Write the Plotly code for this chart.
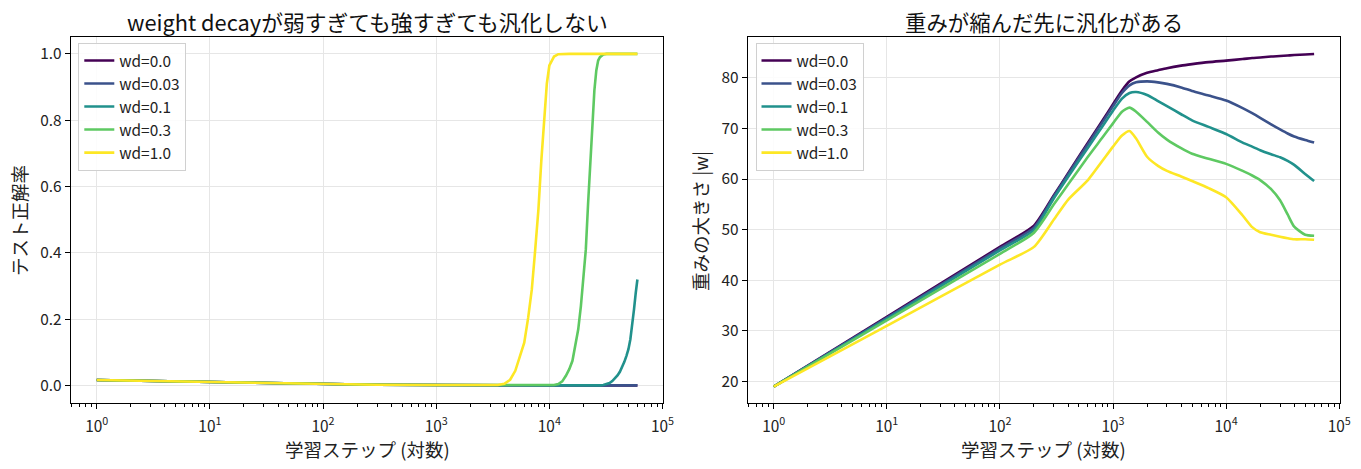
import plotly.graph_objects as go

# ---------------- data ----------------
labels = ["wd=0.0", "wd=0.03", "wd=0.1", "wd=0.3", "wd=1.0"]
colors = ["#440154", "#3b528b", "#21918c", "#5ec962", "#fde725"]

steps_acc = [1, 3, 10, 30, 100, 300, 1000,
             3000, 3500, 4000, 4500, 5000, 5500, 6000, 6500, 7000, 7500, 8000, 8500, 9000, 9500,
             10000, 11000, 12000, 13000, 14000, 15000, 16000, 17000, 18000, 19000, 20000,
             21000, 22000, 23000, 24000, 25000, 26000, 27000, 28000,
             30000, 32000, 34000, 36000, 38000, 40000, 42000, 44000, 46000, 48000, 50000,
             52000, 54000, 56000, 58000, 60000]

acc_wd0 = [0.017, 0.014, 0.011, 0.008, 0.005, 0.003, 0.002,
           0.001, 0.001, 0.001, 0.001, 0.001, 0.001, 0.001, 0.001, 0.001, 0.001, 0.001, 0.001, 0.001, 0.001,
           0.001, 0.001, 0.001, 0.001, 0.001, 0.001, 0.001, 0.001, 0.001, 0.001, 0.001,
           0.001, 0.001, 0.001, 0.001, 0.001, 0.001, 0.001, 0.001,
           0.001, 0.001, 0.001, 0.001, 0.001, 0.001, 0.001, 0.001, 0.001, 0.001, 0.001,
           0.001, 0.001, 0.001, 0.001, 0.001]
acc_wd003 = [0.017, 0.014, 0.011, 0.008, 0.005, 0.003, 0.002,
             0.001, 0.001, 0.001, 0.001, 0.001, 0.001, 0.001, 0.001, 0.001, 0.001, 0.001, 0.001, 0.001, 0.001,
             0.001, 0.001, 0.001, 0.001, 0.001, 0.001, 0.001, 0.001, 0.001, 0.001, 0.001,
             0.001, 0.001, 0.001, 0.001, 0.001, 0.001, 0.001, 0.001,
             0.001, 0.001, 0.001, 0.001, 0.001, 0.001, 0.001, 0.001, 0.001, 0.001, 0.001,
             0.001, 0.001, 0.001, 0.001, 0.001]
acc_wd01 = [0.017, 0.014, 0.011, 0.008, 0.005, 0.003, 0.002,
            0.001, 0.001, 0.001, 0.001, 0.001, 0.001, 0.001, 0.001, 0.001, 0.001, 0.001, 0.001, 0.001, 0.001,
            0.001, 0.001, 0.001, 0.001, 0.001, 0.001, 0.001, 0.001, 0.001, 0.001, 0.001,
            0.001, 0.001, 0.001, 0.001, 0.001, 0.001, 0.001, 0.001,
            0.002, 0.004, 0.008, 0.014, 0.022, 0.031, 0.042, 0.056, 0.072, 0.090, 0.110,
            0.140, 0.180, 0.230, 0.280, 0.320]
acc_wd03 = [0.017, 0.014, 0.011, 0.008, 0.005, 0.003, 0.002,
            0.001, 0.001, 0.001, 0.001, 0.001, 0.001, 0.001, 0.001, 0.001, 0.001, 0.001, 0.001, 0.001, 0.001,
            0.001, 0.002, 0.005, 0.013, 0.030, 0.050, 0.075, 0.120, 0.170, 0.240, 0.320,
            0.410, 0.550, 0.680, 0.800, 0.890, 0.950, 0.980, 0.990,
            0.998, 1.000, 1.000, 1.000, 1.000, 1.000, 1.000, 1.000, 1.000, 1.000, 1.000,
            1.000, 1.000, 1.000, 1.000, 1.000]
acc_wd1 = [0.017, 0.014, 0.011, 0.008, 0.005, 0.003, 0.002,
           0.001, 0.002, 0.006, 0.018, 0.045, 0.090, 0.130, 0.205, 0.290, 0.410, 0.530, 0.680, 0.810, 0.910,
           0.965, 0.992, 0.999, 1.000, 1.000, 1.000, 1.000, 1.000, 1.000, 1.000, 1.000,
           1.000, 1.000, 1.000, 1.000, 1.000, 1.000, 1.000, 1.000,
           1.000, 1.000, 1.000, 1.000, 1.000, 1.000, 1.000, 1.000, 1.000, 1.000, 1.000,
           1.000, 1.000, 1.000, 1.000, 1.000]

steps_w = [1, 10, 100, 200, 300, 400, 600, 800, 1000, 1200, 1400, 1600, 2000, 2500, 3000,
           4000, 5000, 7000, 10000, 14000, 17000, 20000, 25000, 30000, 35000, 40000, 50000, 60000]

norm_wd0 = [19.0, 32.8, 46.6, 50.8, 56.8, 61.1, 67.2, 71.4, 74.8, 77.5, 79.3, 80.1, 81.0, 81.5, 81.9,
            82.4, 82.7, 83.1, 83.4, 83.7, 83.9, 84.0, 84.2, 84.3, 84.4, 84.5, 84.6, 84.7]
norm_wd003 = [19.0, 32.6, 46.3, 50.4, 56.6, 60.9, 66.9, 71.1, 74.4, 77.0, 78.5, 79.1, 79.3, 79.1, 78.8,
              78.1, 77.4, 76.5, 75.5, 74.0, 73.0, 72.1, 70.8, 69.8, 69.0, 68.4, 67.7, 67.2]
norm_wd01 = [19.0, 32.4, 45.9, 49.9, 56.2, 60.4, 66.2, 70.3, 73.5, 75.9, 77.0, 77.2, 76.6, 75.4, 74.4,
             72.8, 71.6, 70.3, 68.9, 67.2, 66.4, 65.7, 64.9, 64.3, 63.6, 62.8, 61.0, 59.6]
norm_wd03 = [19.0, 32.1, 45.2, 49.4, 55.0, 58.9, 64.4, 68.1, 71.0, 73.3, 74.1, 73.3, 71.3, 69.2, 67.8,
             66.1, 65.0, 64.0, 63.0, 61.6, 60.7, 59.8, 58.0, 55.8, 53.0, 50.6, 49.0, 48.8]
norm_wd1 = [19.0, 31.0, 43.1, 46.6, 52.0, 55.9, 59.8, 63.5, 66.4, 68.6, 69.5, 68.0, 64.4, 62.6, 61.6,
            60.5, 59.6, 58.2, 56.4, 52.8, 50.5, 49.5, 49.0, 48.6, 48.3, 48.1, 48.1, 48.0]

acc_series = [acc_wd0, acc_wd003, acc_wd01, acc_wd03, acc_wd1]
norm_series = [norm_wd0, norm_wd003, norm_wd01, norm_wd03, norm_wd1]

x_tickvals = [1, 10, 100, 1000, 10000, 100000]
x_ticktext = ["10<sup>0</sup>", "10<sup>1</sup>", "10<sup>2</sup>", "10<sup>3</sup>", "10<sup>4</sup>", "10<sup>5</sup>"]
acc_ticks = [0.0, 0.2, 0.4, 0.6, 0.8, 1.0]
acc_ticktext = ["0.0", "0.2", "0.4", "0.6", "0.8", "1.0"]
norm_ticks = [20, 30, 40, 50, 60, 70, 80]

title_left = "weight decayが弱すぎても強すぎても汎化しない"
title_right = "重みが縮んだ先に汎化がある"
xlabel = "学習ステップ (対数)"
ylabel_left = "テスト正解率"
ylabel_right = "重みの大きさ |w|"

# ---------------- figure ----------------
W, H = 1361, 469
FONT = "Noto Sans CJK JP, Noto Sans, DejaVu Sans, sans-serif"
TICK = 15.4
LAB = 18.5

fig = go.Figure()
for i, (lab, col) in enumerate(zip(labels, colors)):
    fig.add_trace(go.Scatter(x=steps_acc, y=acc_series[i], mode="lines", name=lab,
                             line=dict(color=col, width=2.6), legendgroup="g%d" % i,
                             xaxis="x", yaxis="y", legend="legend"))
for i, (lab, col) in enumerate(zip(labels, colors)):
    fig.add_trace(go.Scatter(x=steps_w, y=norm_series[i], mode="lines", name=lab,
                             line=dict(color=col, width=2.6, shape="spline", smoothing=0.6),
                             legendgroup="h%d" % i,
                             xaxis="x2", yaxis="y2", legend="legend2"))

minor_vals = [m * 10 ** k for k in range(-1, 5) for m in range(2, 10)]

def xax(domain, anchor):
    return dict(type="log", domain=domain, anchor=anchor, range=[-0.23, 5.007],
                tickvals=x_tickvals, ticktext=x_ticktext,
                ticks="outside", ticklen=5, tickwidth=1, tickcolor="black",
                ticklabelstandoff=4,
                minor=dict(tickvals=minor_vals, ticks="outside", ticklen=3, tickwidth=0.8,
                           tickcolor="black", showgrid=False),
                showline=True, linecolor="black", linewidth=1, mirror=True,
                showgrid=True, gridcolor="#e6e6e6", gridwidth=1,
                zeroline=False, automargin=False,
                tickfont=dict(family=FONT, size=TICK, color="#222"))

def yax(domain, anchor, rng, tv, tt):
    return dict(domain=domain, anchor=anchor, range=rng, tickvals=tv, ticktext=tt,
                ticks="outside", ticklen=5, tickwidth=1, tickcolor="black",
                showline=True, linecolor="black", linewidth=1, mirror=True,
                showgrid=True, gridcolor="#e6e6e6", gridwidth=1,
                zeroline=False, automargin=False,
                tickfont=dict(family=FONT, size=TICK, color="#222"))

ydom = [1 - 403.3 / H, 1 - 37.3 / H]
xdom1 = [70.7 / W, 663.3 / W]
xdom2 = [747.7 / W, 1340.0 / W]

legend_style = dict(bgcolor="rgba(255,255,255,0.85)", bordercolor="#d0d0d0", borderwidth=1,
                    font=dict(family=FONT, size=TICK, color="#222"), tracegroupgap=0,
                    xanchor="left", yanchor="top", itemwidth=30)

fig.update_layout(
    width=W, height=H,
    margin=dict(l=0, r=0, t=0, b=0),
    paper_bgcolor="white", plot_bgcolor="white",
    font=dict(family=FONT, color="#222"),
    xaxis=xax(xdom1, "y"),
    yaxis=yax(ydom, "x", [-0.053, 1.05], acc_ticks, acc_ticktext),
    xaxis2=xax(xdom2, "y2"),
    yaxis2=yax(ydom, "x2", [15.7, 88.0], norm_ticks, [str(v) for v in norm_ticks]),
    legend=dict(x=78.3 / W, y=1 - 43 / H, **legend_style),
    legend2=dict(x=755.5 / W, y=1 - 43 / H, **legend_style),
    annotations=[
        dict(text=title_left, x=(xdom1[0] + xdom1[1]) / 2, y=1 - 22 / H, xref="paper", yref="paper",
             showarrow=False, xanchor="center", yanchor="middle", font=dict(family=FONT, size=21.8, color="#111")),
        dict(text=title_right, x=(xdom2[0] + xdom2[1]) / 2, y=1 - 22 / H, xref="paper", yref="paper",
             showarrow=False, xanchor="center", yanchor="middle", font=dict(family=FONT, size=21.4, color="#111")),
        dict(text=xlabel, x=(xdom1[0] + xdom1[1]) / 2, y=1 - 449 / H, xref="paper", yref="paper",
             showarrow=False, xanchor="center", yanchor="middle", font=dict(family=FONT, size=LAB, color="#222")),
        dict(text=xlabel, x=(xdom2[0] + xdom2[1]) / 2, y=1 - 449 / H, xref="paper", yref="paper",
             showarrow=False, xanchor="center", yanchor="middle", font=dict(family=FONT, size=LAB, color="#222")),
        dict(text=ylabel_left, x=19 / W, y=1 - 221 / H, xref="paper", yref="paper", textangle=-90,
             showarrow=False, xanchor="center", yanchor="middle", font=dict(family=FONT, size=LAB, color="#222")),
        dict(text=ylabel_right, x=700 / W, y=1 - 221 / H, xref="paper", yref="paper", textangle=-90,
             showarrow=False, xanchor="center", yanchor="middle", font=dict(family=FONT, size=LAB, color="#222")),
    ],
)

fig.write_html("out.html")
